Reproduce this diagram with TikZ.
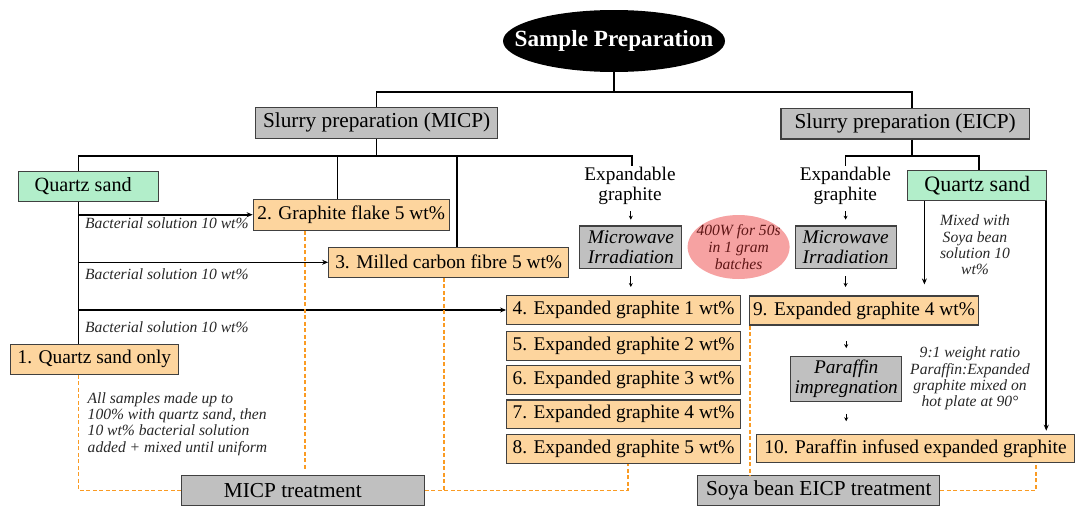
\documentclass[tikz,border=0pt]{standalone}
\usepackage{fontspec}
\setmainfont{Liberation Serif}
\usetikzlibrary{shapes.geometric,arrows.meta,calc}

\definecolor{peach}{RGB}{253,213,158}
\definecolor{mint}{RGB}{178,238,202}
\definecolor{boxgray}{RGB}{192,192,192}
\definecolor{edge}{RGB}{64,64,64}
\definecolor{dashorange}{RGB}{250,155,35}
\definecolor{salmon}{RGB}{246,162,162}
\definecolor{wine}{RGB}{95,22,22}
\definecolor{notegray}{RGB}{40,40,40}

\tikzset{
  box/.style={draw=edge, line width=1.1pt, inner sep=0pt, minimum height=30pt,
    font=\fontsize{19.4}{21}\selectfont},
  peachbox/.style={box, fill=peach},
  graybox/.style={box, fill=boxgray},
  mintbox/.style={box, fill=mint},
  bigtext/.style={font=\fontsize{21.3}{23}\selectfont},
  conn/.style={line width=1.6pt, black},
  arr/.style={conn, -{Stealth[length=6pt,width=5pt]}},
  tinyarr/.style={line width=1.2pt, black, -{Stealth[length=4pt,width=4pt]}},
  dashline/.style={line width=1.8pt, dashorange, dash pattern=on 4pt off 2.5pt},
  lbl/.style={inner sep=0pt, text=notegray, font=\itshape\fontsize{15.6}{16.3}\selectfont},
}

\begin{document}
\begin{tikzpicture}[x=1pt,y=-1pt]
\useasboundingbox (0,0) rectangle (1076,506);

% title
\node[ellipse, fill=black, minimum width=222pt, minimum height=62pt, inner sep=0pt] (title) at (614,41) {};
\node[text=white, font=\bfseries\fontsize{23.2}{26}\selectfont] (titletext) at (title.center) {Sample Preparation};

% slurry stages
\node[graybox, bigtext, minimum width=242pt, minimum height=31pt] (smicp) at (376.6,122.8) {Slurry preparation (MICP)};
\node[graybox, bigtext, minimum width=248.5pt, minimum height=30.7pt] (seicp) at (905.2,123.6) {Slurry preparation (EICP)};

% sand
\node[mintbox, minimum width=140pt, font=\fontsize{20.2}{22}\selectfont] (qL) at (88.2,186.2) {\hspace*{-10pt}Quartz sand};
\node[mintbox, minimum width=139pt, font=\fontsize{22}{24}\selectfont] (qR) at (977.2,185.7) {Quartz sand};

% samples
\node[peachbox, minimum width=168pt] (s1) at (94.4,359.2) {1. Quartz sand only};
\node[peachbox, minimum width=196pt, minimum height=31pt] (s2) at (351.2,214.7) {2. Graphite flake 5 wt\%};
\node[peachbox, minimum width=240pt] (s3) at (448.7,262.3) {3. Milled carbon fibre 5 wt\%};
\node[peachbox, minimum width=234pt, minimum height=28.6pt] (s4) at (623.6,310) {4. Expanded graphite 1 wt\%};
\node[peachbox, minimum width=234pt, minimum height=28.6pt] (s5) at (623.6,346) {5. Expanded graphite 2 wt\%};
\node[peachbox, minimum width=234pt, minimum height=28.6pt] (s6) at (623.6,380.2) {6. Expanded graphite 3 wt\%};
\node[peachbox, minimum width=234pt, minimum height=28.6pt] (s7) at (623.6,414.3) {7. Expanded graphite 4 wt\%};
\node[peachbox, minimum width=234pt, minimum height=28.6pt] (s8) at (623.6,449.2) {8. Expanded graphite 5 wt\%};
\node[peachbox, minimum width=229pt, minimum height=29pt] (s9) at (864,310.5) {9. Expanded graphite 4 wt\%};
\node[peachbox, minimum width=318pt, minimum height=28pt] (s10) at (915.5,448.3) {10. Paraffin infused expanded graphite};

% expandable graphite route
\node[align=center, inner sep=1pt, font=\fontsize{19.3}{20.7}\selectfont] (egL) at (630,186) {Expandable\\graphite};
\node[align=center, inner sep=1pt, font=\fontsize{19.3}{20.7}\selectfont] (egR) at (845.3,186) {Expandable\\graphite};
\node[graybox, align=center, minimum width=102pt, minimum height=42.5pt, font=\itshape\fontsize{19.3}{20}\selectfont] (mwL) at (630.8,247.2) {Microwave\\Irradiation};
\node[graybox, align=center, minimum width=101pt, minimum height=42.5pt, font=\itshape\fontsize{19.3}{20}\selectfont] (mwR) at (845.6,247.2) {Microwave\\Irradiation};
\node[ellipse, fill=salmon, minimum width=102pt, minimum height=64pt, inner sep=0pt] (pink) at (738.6,247) {};
\node[align=center, inner sep=0pt, text=wine, font=\itshape\fontsize{15.6}{16.7}\selectfont] (pinktext) at (pink.center) {400W for 50s\\in 1 gram\\batches};
\node[graybox, align=center, minimum width=111pt, minimum height=45pt, font=\itshape\fontsize{19.3}{20}\selectfont] (par) at (846.2,379.2) {Paraffin\\impregnation};

% treatments
\node[graybox, bigtext, minimum width=242.7pt, minimum height=29.3pt] (micpt) at (302.8,490.4) {\hspace*{-20pt}MICP treatment};
\node[graybox, bigtext, minimum width=241.8pt, minimum height=29.3pt] (soya) at (818.7,490.4) {Soya bean EICP treatment};

% notes
\node[lbl, anchor=west] (lab1) at (85,223.3) {Bacterial solution 10 wt\%};
\node[lbl, anchor=west] (lab2) at (85,274.3) {Bacterial solution 10 wt\%};
\node[lbl, anchor=west] (lab3) at (85,326.7) {Bacterial solution 10 wt\%};
\node[lbl, align=left, anchor=north west] (allnote) at (87.5,392.3) {All samples made up to\\100\% with quartz sand, then\\10 wt\% bacterial solution\\added + mixed until uniform};
\node[lbl, align=center] (mixnote) at (975,245) {Mixed with\\Soya bean\\solution 10\\wt\%};
\node[lbl, align=center] (ratio) at (970,378.5) {9:1 weight ratio\\Paraffin:Expanded\\graphite mixed on\\hot plate at 90°};

% tree connectors
\coordinate (h1) at ([yshift=-19.7pt]title.south);
\draw[conn] (title.south) -- (h1);
\draw[conn] (h1) -| (smicp.north);
\draw[conn] (h1) -| ([xshift=6.8pt]seicp.north);

\coordinate (h2) at ([yshift=-17pt]smicp.south);
\draw[conn] (smicp.south) -- (h2);
\draw[conn] (h2) -| ([xshift=-9.7pt]qL.north);
\draw[conn] (h2) -| ([xshift=-13.7pt]s2.north);
\draw[conn] (h2) -| ([xshift=8.3pt]s3.north);
\draw[conn] (h2) -| ([xshift=2pt]egL.north);

\coordinate (h3) at ([xshift=6.8pt,yshift=-16.5pt]seicp.south);
\draw[conn] ([xshift=6.8pt]seicp.south) -- (h3);
\draw[conn] (h3) -| (egR.north);
\draw[conn] (h3) -| ([xshift=2pt]qR.north);

% quartz sand spine with bacterial solution arrows
\coordinate (sp) at ([xshift=-15.9pt]s1.north);
\draw[conn] ([xshift=-9.7pt]qL.south) -- (sp);
\draw[arr] (s2.west -| sp) -- (s2.west);
\draw[arr] (s3.west -| sp) -- (s3.west);
\draw[arr] (s4.west -| sp) -- (s4.west);

% short process arrows
\draw[tinyarr] ([yshift=14.3pt]mwL.north) -- ([yshift=5.7pt]mwL.north);
\draw[tinyarr] ([yshift=-7pt]mwL.south) -- ([yshift=-18pt]mwL.south);
\draw[tinyarr] ([yshift=14.3pt]mwR.north) -- ([yshift=5.7pt]mwR.north);
\draw[tinyarr] ([yshift=-7pt]mwR.south) -- ([yshift=-18pt]mwR.south);
\draw[tinyarr] ([yshift=15pt]par.north) -- ([yshift=8pt]par.north);
\draw[tinyarr] ([yshift=-11.6pt]par.south) -- ([yshift=-19pt]par.south);

% soya bean sand arrows
\coordinate (qa) at ([xshift=-52.8pt]qR.south);
\draw[arr] (qa) -- ($(s9.north -| qa)+(0,-11)$);
\coordinate (qb) at ([xshift=-1pt]qR.south east);
\draw[arr] (qb) -- ($(s10.north -| qb)+(0,-3)$);

% treatment links
\coordinate (d1) at ([xshift=-15.9pt]s1.south);
\draw[dashline] (d1) |- (micpt.west);
\coordinate (d2) at ([xshift=-46.2pt]s2.south);
\draw[dashline] (d2) -- ($(micpt.north -| d2)+(0,-5)$);
\coordinate (d3) at ([xshift=-4.7pt]s3.south);
\draw[dashline] (d3) -- (d3 |- micpt.east);
\coordinate (d8) at ([xshift=4.4pt]s8.south);
\draw[dashline] (micpt.east) -| (d8);
\coordinate (d9) at ([xshift=1pt]s9.south west);
\draw[dashline] (d9) -- (d9 |- soya.north);
\coordinate (d10) at ([xshift=120.5pt]s10.south);
\draw[dashline] (soya.east) -| (d10);
\end{tikzpicture}
\end{document}
